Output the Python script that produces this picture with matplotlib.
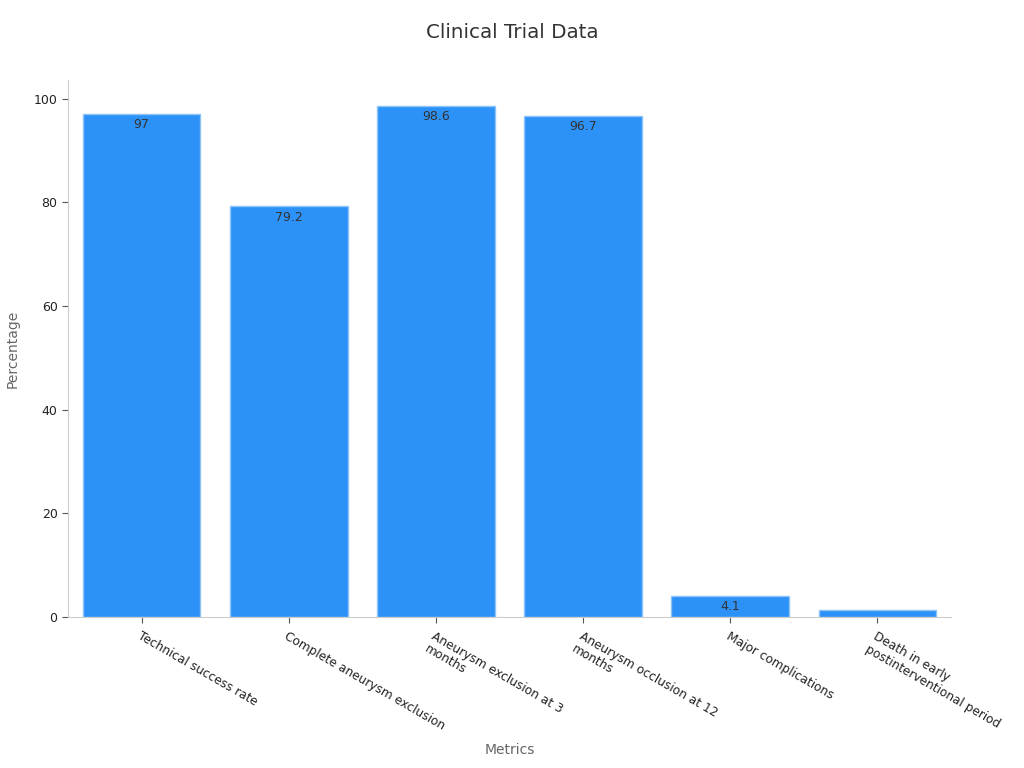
import matplotlib.pyplot as plt

metrics = ["Technical success rate", "Complete aneurysm exclusion",
           "Aneurysm exclusion at 3\nmonths", "Aneurysm occlusion at 12\nmonths",
           "Major complications", "Death in early\npostinterventional period"]
values = [97, 79.2, 98.6, 96.7, 4.1, 1.4]

fig = plt.figure(figsize=(10.24, 7.68), dpi=100)
ax = fig.add_axes([0.0664, 0.1966, 0.8623, 0.6994])

x = range(len(metrics))
bars = ax.bar(x, values, width=0.8, color="#2d92f7", edgecolor="#8cc4f8", linewidth=1)

# labels sit just inside the top of each bar
for i, v in enumerate(values):
    if v < 2:
        continue
    ax.text(i, v - 0.8, f"{v:g}", ha="center", va="top", fontsize=9, color="#333333")

ax.set_xlim(-0.5, 5.5)
ax.set_ylim(0, 103.6)
ax.set_yticks([0, 20, 40, 60, 80, 100])
ax.set_xticks(list(x))
ax.set_xticklabels(metrics, rotation=-30, ha="left", rotation_mode="anchor", fontsize=8.7, color="#222222")
ax.tick_params(axis="y", labelsize=9, labelcolor="#222222", color="#555555", length=4)
ax.tick_params(axis="x", color="#555555", length=4, pad=5)

for s in ["top", "right"]:
    ax.spines[s].set_visible(False)
for s in ["left", "bottom"]:
    ax.spines[s].set_color("#cccccc")

ax.set_ylabel("Percentage", fontsize=10, color="#666666")
ax.yaxis.set_label_coords(-0.055, 0.5)
ax.set_xlabel("Metrics", fontsize=10, color="#666666")
ax.xaxis.set_label_coords(0.5, -0.235)
fig.suptitle("Clinical Trial Data", fontsize=14.3, color="#333333", y=0.97)

fig.savefig("out.png", dpi=100)
